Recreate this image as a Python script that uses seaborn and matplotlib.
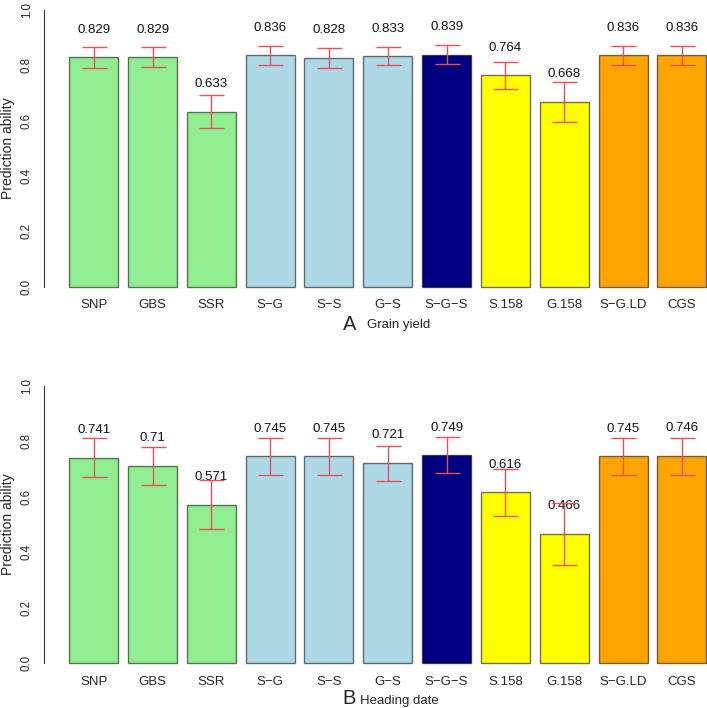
import matplotlib
matplotlib.use('Agg')
import matplotlib.pyplot as plt
import seaborn as sns
import pandas as pd

# ── data ──────────────────────────────────────────
methods = ['SNP', 'GBS', 'SSR', 'S\u2212G', 'S\u2212S', 'G\u2212S',
           'S\u2212G\u2212S', 'S.158', 'G.158', 'S\u2212G.LD', 'CGS']
bar_colors = ['#90EE90', '#90EE90', '#90EE90',
              '#ADD8E6', '#ADD8E6', '#ADD8E6',
              '#000080', '#FFFF00', '#FFFF00',
              '#FFA500', '#FFA500']

gy_mean = [0.829, 0.829, 0.633, 0.836, 0.828, 0.833, 0.839, 0.764, 0.668, 0.836, 0.836]
gy_err = [0.038, 0.036, 0.061, 0.035, 0.036, 0.033, 0.033, 0.048, 0.072, 0.034, 0.035]

hd_mean = [0.741, 0.71, 0.571, 0.745, 0.745, 0.721, 0.749, 0.616, 0.466, 0.745, 0.746]
hd_err = [0.069, 0.068, 0.088, 0.067, 0.066, 0.063, 0.065, 0.084, 0.113, 0.067, 0.067]

panels = [('A', 'Grain yield', gy_mean, gy_err),
          ('B', 'Heading date', hd_mean, hd_err)]

# ── figure ────────────────────────────────────────
sns.set_style('white')
plt.rcParams['font.family'] = ['Liberation Sans', 'DejaVu Sans']

W, H = 707, 708
fig = plt.figure(figsize=(W / 100, H / 100), dpi=100)

# axes boxes in pixels (left, top, right, bottom)
boxes = [(43.8, -1.1, 731.8, 297.8),
         (43.8, 374.6, 731.8, 674.4)]
# letter x, letter baseline, trait x, trait baseline
title_pos = [(343, 330, 367, 328), (342, 704, 360, 704)]

for (letter, trait, vals, errs), box, tp in zip(panels, boxes, title_pos):
    l, t, r, b = box
    ax = fig.add_axes([l / W, 1 - b / H, (r - l) / W, (b - t) / H])
    df = pd.DataFrame({'method': methods, 'value': vals})
    sns.barplot(data=df, x='method', y='value', hue='method',
                palette=bar_colors, legend=False, saturation=1,
                width=1 / 1.2, edgecolor=(0, 0, 0, 0.55),
                linewidth=1, ax=ax)
    ax.errorbar(range(len(methods)), vals, yerr=errs, fmt='none',
                ecolor='#E8505A', elinewidth=1, capsize=9,
                capthick=1, zorder=5)
    for i, v in enumerate(vals):
        ax.text(i, v + 0.1, f'{v:g}', ha='center', va='center',
                fontsize=9.5, color='#111111')

    ax.set_xlim(-0.85, 10.85)
    ax.set_ylim(-0.04, 1.04)
    ax.set_yticks([0, 0.2, 0.4, 0.6, 0.8, 1.0])
    ax.set_yticklabels(['0.0', '0.2', '0.4', '0.6', '0.8', '1.0'])
    ax.tick_params(axis='y', length=4, width=0.8, pad=4,
                   labelsize=8.3, labelrotation=90, color='#333333')
    for lab in ax.get_yticklabels():
        lab.set_verticalalignment('center')
    ax.tick_params(axis='x', length=0, pad=1, labelsize=9.5)
    for s in ['top', 'right', 'bottom']:
        ax.spines[s].set_visible(False)
    ax.spines['left'].set_bounds(0, 1)
    ax.spines['left'].set_linewidth(0.8)
    ax.spines['left'].set_color('#333333')
    ax.set_xlabel('')
    ax.set_ylabel('')

    # y label placed by hand, R style
    y_mid = (t + b) / 2
    fig.text(8 / W, 1 - y_mid / H, 'Prediction ability', rotation=90,
             ha='center', va='center', fontsize=10)

    fig.text(tp[0] / W, 1 - tp[1] / H, letter, ha='left', va='baseline',
             fontsize=14.5)
    fig.text(tp[2] / W, 1 - tp[3] / H, trait, ha='left', va='baseline',
             fontsize=9.5)

plt.savefig('out.png', dpi=100)
